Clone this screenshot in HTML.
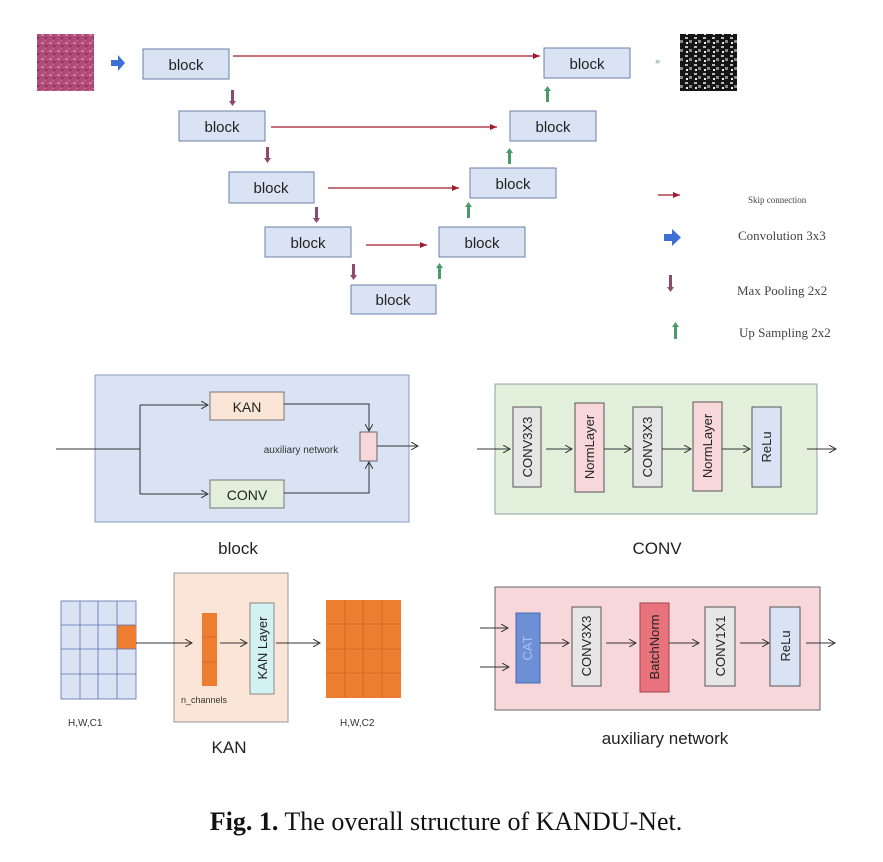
<!DOCTYPE html>
<html><head><meta charset="utf-8"><style>
html,body{margin:0;padding:0;background:#fff;}
svg{display:block;}
.s{font-family:"Liberation Sans",sans-serif;fill:#222;}
.t{font-family:"Liberation Serif",serif;fill:#444;}
</style></head><body>
<svg width="883" height="862" viewBox="0 0 883 862" xmlns="http://www.w3.org/2000/svg">
<defs>
<marker id="ar" markerWidth="8" markerHeight="8" refX="7" refY="4" orient="auto" markerUnits="userSpaceOnUse"><path d="M0,0 L7,4 L0,8" fill="none" stroke="#333" stroke-width="1"/></marker>
<marker id="rr" markerWidth="8" markerHeight="6" refX="7" refY="3" orient="auto" markerUnits="userSpaceOnUse"><path d="M0,0 L7,3 L0,6Z" fill="#a01c2c"/></marker>
<pattern id="tis" width="8" height="8" patternUnits="userSpaceOnUse"><rect width="8" height="8" fill="#b04a78"/><rect x="1" y="2" width="3" height="2" fill="#d07aa0"/><rect x="5" y="5" width="2" height="2" fill="#8a2f5a"/><rect x="4" y="0" width="2" height="1" fill="#c86590"/></pattern>
<pattern id="seg" width="9" height="9" patternUnits="userSpaceOnUse"><rect width="9" height="9" fill="#151515"/><rect x="1" y="1" width="3" height="2" fill="#bbb"/><rect x="5" y="4" width="3" height="3" fill="#888"/><rect x="2" y="6" width="2" height="2" fill="#eee"/></pattern>
</defs>

<rect x="37" y="34" width="57" height="57" fill="url(#tis)"/>
<rect x="680" y="34" width="57" height="57" fill="url(#seg)"/>
<path d="M111,60 h7 v-5 l7,8 l-7,8 v-5 h-7z" fill="#3d6fd6"/>
<text x="655" y="64" font-size="9" fill="#6a9a6a" font-family="Liberation Sans,sans-serif">»</text>

<g fill="#dae3f3" stroke="#6b7fa8" stroke-width="1">
<rect x="143" y="49" width="86" height="30"/>
<rect x="179" y="111" width="86" height="30"/>
<rect x="229" y="172" width="85" height="31"/>
<rect x="265" y="227" width="86" height="30"/>
<rect x="351" y="285" width="85" height="29"/>
<rect x="544" y="48" width="86" height="30"/>
<rect x="510" y="111" width="86" height="30"/>
<rect x="470" y="168" width="86" height="30"/>
<rect x="439" y="227" width="86" height="30"/>
</g>
<g class="s" font-size="15" text-anchor="middle">
<text x="186" y="70">block</text><text x="222" y="132">block</text><text x="271" y="193">block</text>
<text x="308" y="248">block</text><text x="393" y="305">block</text><text x="587" y="69">block</text>
<text x="553" y="132">block</text><text x="513" y="189">block</text><text x="482" y="248">block</text>
</g>
<g stroke="#a01c2c" stroke-width="1.3" marker-end="url(#rr)">
<line x1="233" y1="56" x2="540" y2="56"/>
<line x1="271" y1="127" x2="497" y2="127"/>
<line x1="328" y1="188" x2="459" y2="188"/>
<line x1="366" y1="245" x2="427" y2="245"/>
<line x1="658" y1="195" x2="680" y2="195"/>
</g>
<g fill="#8d4a70">
<path d="M231,90 h3 v11 h2 l-3.5,5 l-3.5,-5 h2z"/>
<path d="M266,147 h3 v11 h2 l-3.5,5 l-3.5,-5 h2z"/>
<path d="M315,207 h3 v11 h2 l-3.5,5 l-3.5,-5 h2z"/>
<path d="M352,264 h3 v11 h2 l-3.5,5 l-3.5,-5 h2z"/>
<path d="M669,275 h3 v12 h2 l-3.5,5 l-3.5,-5 h2z"/>
</g>
<g fill="#4a9a6a">
<path d="M438,279 h3 v-11 h2 l-3.5,-5 l-3.5,5 h2z"/>
<path d="M467,218 h3 v-11 h2 l-3.5,-5 l-3.5,5 h2z"/>
<path d="M508,164 h3 v-11 h2 l-3.5,-5 l-3.5,5 h2z"/>
<path d="M546,102 h3 v-11 h2 l-3.5,-5 l-3.5,5 h2z"/>
<path d="M674,339 h3 v-12 h2 l-3.5,-5 l-3.5,5 h2z"/>
</g>
<path d="M664,234 h8 v-5 l9,8.5 l-9,8.5 v-5 h-8z" fill="#3d6fd6"/>
<g class="t">
<text x="748" y="203" font-size="9">Skip connection</text>
<text x="738" y="240" font-size="13">Convolution 3x3</text>
<text x="737" y="295" font-size="13">Max Pooling 2x2</text>
<text x="739" y="337" font-size="13">Up Sampling 2x2</text>
</g>

<rect x="95" y="375" width="314" height="147" fill="#dae3f3" stroke="#8a9cc0"/>
<rect x="210" y="392" width="74" height="28" fill="#fbe5d6" stroke="#777"/>
<rect x="210" y="480" width="74" height="28" fill="#e2efda" stroke="#777"/>
<rect x="360" y="432" width="17" height="29" fill="#f8d7da" stroke="#666"/>
<g fill="none" stroke="#333" stroke-width="1">
<path d="M56,449 H140"/>
<path d="M140,405 V494"/>
<path d="M140,405 H208" marker-end="url(#ar)"/>
<path d="M140,494 H208" marker-end="url(#ar)"/>
<path d="M284,404 H369 V431" marker-end="url(#ar)"/>
<path d="M284,493 H369 V462" marker-end="url(#ar)"/>
<path d="M377,446 H418" marker-end="url(#ar)"/>
</g>
<g class="s" text-anchor="middle">
<text x="247" y="412" font-size="14">KAN</text>
<text x="247" y="500" font-size="14">CONV</text>
<text x="301" y="453" font-size="10" fill="#333">auxiliary network</text>
<text x="238" y="554" font-size="17">block</text>
</g>

<rect x="61" y="601" width="75" height="98" fill="#dae3f3" stroke="#5a6fb0" stroke-width="0.8"/>
<rect x="117" y="625" width="19" height="24" fill="#ed7d31"/>
<g stroke="#5a6fb0" stroke-width="0.8">
<line x1="80" y1="601" x2="80" y2="699"/><line x1="98" y1="601" x2="98" y2="699"/><line x1="117" y1="601" x2="117" y2="699"/>
<line x1="61" y1="625" x2="136" y2="625"/><line x1="61" y1="649" x2="136" y2="649"/><line x1="61" y1="674" x2="136" y2="674"/>
</g>
<rect x="174" y="573" width="114" height="149" fill="#fbe5d6" stroke="#999"/>
<rect x="202" y="613" width="15" height="73" fill="#ed7d31"/>
<g stroke="#c86a20" stroke-width="0.8"><line x1="202" y1="637" x2="217" y2="637"/><line x1="202" y1="662" x2="217" y2="662"/></g>
<rect x="250" y="603" width="24" height="91" fill="#d3f0f2" stroke="#888"/>
<rect x="326" y="600" width="75" height="98" fill="#ed7d31"/>
<g stroke="#c8651f" stroke-width="0.8">
<line x1="345" y1="600" x2="345" y2="698"/><line x1="363" y1="600" x2="363" y2="698"/><line x1="382" y1="600" x2="382" y2="698"/>
<line x1="326" y1="624" x2="401" y2="624"/><line x1="326" y1="649" x2="401" y2="649"/><line x1="326" y1="673" x2="401" y2="673"/>
</g>
<g fill="none" stroke="#333" stroke-width="1">
<path d="M136,643 H192" marker-end="url(#ar)"/>
<path d="M220,643 H247" marker-end="url(#ar)"/>
<path d="M276,643 H320" marker-end="url(#ar)"/>
</g>
<g class="s">
<text x="181" y="703" font-size="9" fill="#333">n_channels</text>
<text transform="translate(267,648) rotate(-90)" text-anchor="middle" font-size="13">KAN Layer</text>
<text x="68" y="726" font-size="10" fill="#333">H,W,C1</text>
<text x="340" y="726" font-size="10" fill="#333">H,W,C2</text>
<text x="229" y="753" font-size="17" text-anchor="middle">KAN</text>
</g>

<rect x="495" y="384" width="322" height="130" fill="#e2efda" stroke="#8aa0a8"/>
<rect x="513" y="407" width="28" height="80" fill="#e7e6e6" stroke="#555"/>
<rect x="575" y="403" width="29" height="89" fill="#f8d7da" stroke="#555"/>
<rect x="633" y="407" width="29" height="80" fill="#e7e6e6" stroke="#555"/>
<rect x="693" y="402" width="29" height="89" fill="#f8d7da" stroke="#555"/>
<rect x="752" y="407" width="29" height="80" fill="#dae3f3" stroke="#555"/>
<g fill="none" stroke="#333" stroke-width="1">
<path d="M477,449 H510" marker-end="url(#ar)"/>
<path d="M546,449 H572" marker-end="url(#ar)"/>
<path d="M604,449 H631" marker-end="url(#ar)"/>
<path d="M662,449 H691" marker-end="url(#ar)"/>
<path d="M722,449 H750" marker-end="url(#ar)"/>
<path d="M807,449 H836" marker-end="url(#ar)"/>
</g>
<g class="s" font-size="13" text-anchor="middle">
<text transform="translate(532,447) rotate(-90)">CONV3X3</text>
<text transform="translate(594,447) rotate(-90)">NormLayer</text>
<text transform="translate(652,447) rotate(-90)">CONV3X3</text>
<text transform="translate(712,446) rotate(-90)">NormLayer</text>
<text transform="translate(771,447) rotate(-90)">ReLu</text>
<text x="657" y="554" font-size="17">CONV</text>
</g>

<rect x="495" y="587" width="325" height="123" fill="#f8d7da" stroke="#666"/>
<rect x="516" y="613" width="24" height="70" fill="#6d8fd5" stroke="#4a6ab0"/>
<rect x="572" y="607" width="29" height="79" fill="#e7e6e6" stroke="#555"/>
<rect x="640" y="603" width="29" height="89" fill="#e9737c" stroke="#a04050"/>
<rect x="705" y="607" width="30" height="79" fill="#e7e6e6" stroke="#555"/>
<rect x="770" y="607" width="30" height="79" fill="#dae3f3" stroke="#555"/>
<g fill="none" stroke="#333" stroke-width="1">
<path d="M480,628 H508" marker-end="url(#ar)"/>
<path d="M480,667 H509" marker-end="url(#ar)"/>
<path d="M540,643 H569" marker-end="url(#ar)"/>
<path d="M606,643 H636" marker-end="url(#ar)"/>
<path d="M669,643 H699" marker-end="url(#ar)"/>
<path d="M740,643 H769" marker-end="url(#ar)"/>
<path d="M806,643 H835" marker-end="url(#ar)"/>
</g>
<g class="s" font-size="13" text-anchor="middle">
<text transform="translate(532,648) rotate(-90)" fill="#a8c0f0">CAT</text>
<text transform="translate(591,646) rotate(-90)">CONV3X3</text>
<text transform="translate(659,647) rotate(-90)">BatchNorm</text>
<text transform="translate(725,646) rotate(-90)">CONV1X1</text>
<text transform="translate(790,646) rotate(-90)">ReLu</text>
<text x="665" y="744" font-size="17">auxiliary network</text>
</g>

<text x="446" y="830" text-anchor="middle" font-family="Liberation Serif,serif" font-size="26" fill="#111"><tspan font-weight="bold">Fig. 1.</tspan> The overall structure of KANDU-Net.</text>
</svg>
</body></html>
